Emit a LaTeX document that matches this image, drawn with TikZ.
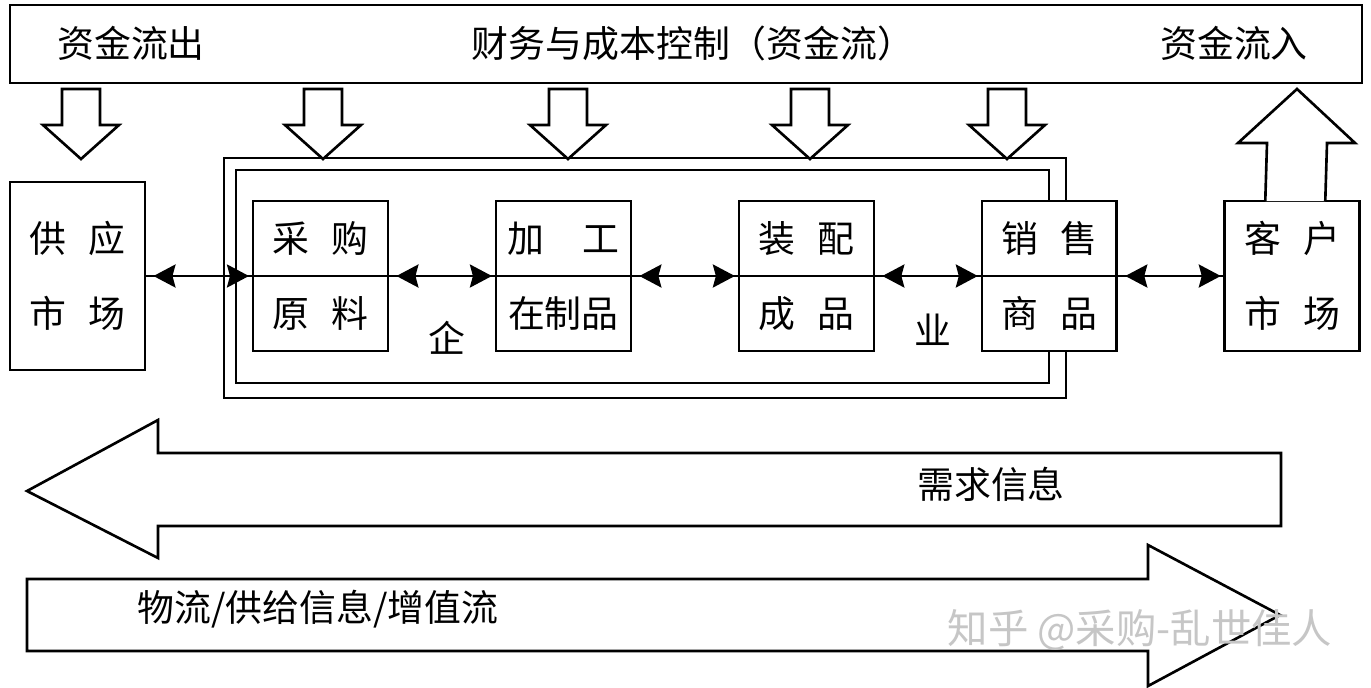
\documentclass[tikz,border=0pt]{standalone}
\usepackage{fontspec}
\newfontfamily\cjk{Noto Sans CJK SC}
\usetikzlibrary{arrows.meta}
\usetikzlibrary{positioning}
\usetikzlibrary{calc}

\tikzset{
    box/.style = {draw, fill=white, line width=1.5pt, minimum width=2.7cm,
                  minimum height=3cm, inner sep=0pt, outer sep=0pt, align=center,
                  font=\cjk\fontsize{21}{43}\selectfont},
    link/.style = {{Stealth[length=0.44cm,width=0.46cm,inset=0.06cm]}-{Stealth[length=0.44cm,width=0.46cm,inset=0.06cm]},
                   line width=1.5pt, shorten <=0.17cm, shorten >=0.08cm},
    blk/.style = {draw, line width=1.5pt, fill=white, line join=miter},
    lbl/.style = {font=\cjk\fontsize{21}{25}\selectfont, inner sep=0pt}
}

\begin{document}
\begin{tikzpicture}[x=0.02cm, y=-0.02cm]

            \useasboundingbox (0,0) rectangle (1371,687);

            % finance bar
            \node[draw, line width=1.5pt, minimum width=27.04cm, minimum height=1.56cm] (fin) at (686,44) {};
            \node[lbl] (f_out) at (131,43)  {资金流出};
            \node[lbl] (f_mid) at (693,43)  {财务与成本控制（资金流）};
            \node[lbl] (f_in)  at (1234,43) {资金流入};

            \foreach \cx in {81, 323, 568, 810, 1007}
                \draw[blk] (\cx-19,89) -- (\cx+19,89) -- (\cx+19,125) -- (\cx+38,125)
                           -- (\cx,159) -- (\cx-38,125) -- (\cx-19,125) -- cycle;

            % enterprise frame
            \draw[line width=1.5pt] (224,158) rectangle (1066,398);
            \draw[line width=1.5pt] (236,170) rectangle (1049,383);

            \node[box, minimum height=3.76cm] (m_sup) at (77.5,276) {供\hspace{.6em}应\\市\hspace{.6em}场};
            \node[box] (p_0) [right = 2.16cm of m_sup] {采\hspace{.6em}购\\原\hspace{.6em}料};
            \node[box] (p_1) [right = 2.16cm of p_0]   {加\hspace{1.05em}工\\在制品};
            \node[box] (p_2) [right = 2.16cm of p_1]   {装\hspace{.6em}配\\成\hspace{.6em}品};
            \node[box] (p_3) [right = 2.16cm of p_2]   {销\hspace{.6em}售\\商\hspace{.6em}品};
            \node[box] (m_cus) [right = 2.16cm of p_3] {客\hspace{.6em}户\\市\hspace{.6em}场};

            \node[lbl] (ent_a) at (447,338) {企};
            \node[lbl] (ent_b) at (933,330) {业};

            \draw[line width=1.5pt] (m_sup.east) -- (m_cus.west);
            \path[link]
                (m_sup.east) edge (p_0.west)
                (p_0.east) edge (p_1.west)
                (p_1.east) edge (p_2.west)
                (p_2.east) edge (p_3.west)
                (p_3.east) edge (m_cus.west);

            % cash in
            \draw[blk] ($(m_cus.north)+(-27,0)$) -- (1267,143) -- (1238,143) -- (1297,89)
                       -- (1355,143) -- (1327,143) -- ($(m_cus.north)+(33,0)$);

            % demand / supply arrows
            \draw[blk] (1281,453) -- (158,453) -- (158,420) -- (27,491) -- (158,558)
                       -- (158,526) -- (1281,526) -- cycle;
            \node[lbl] (dem) at (991,484) {需求信息};

            \draw[blk] (27,579) -- (1148,579) -- (1148,545) -- (1280,615) -- (1148,686)
                       -- (1148,651) -- (27,651) -- cycle;
            \node[lbl] (sup) at (318,609) {物流/供给信息/增值流};

            \node[lbl, text=gray!45, font=\cjk\fontsize{23}{27}\selectfont] (wm) at (1140,630) {知乎 @采购-乱世佳人};

        \end{tikzpicture}
\end{document}
